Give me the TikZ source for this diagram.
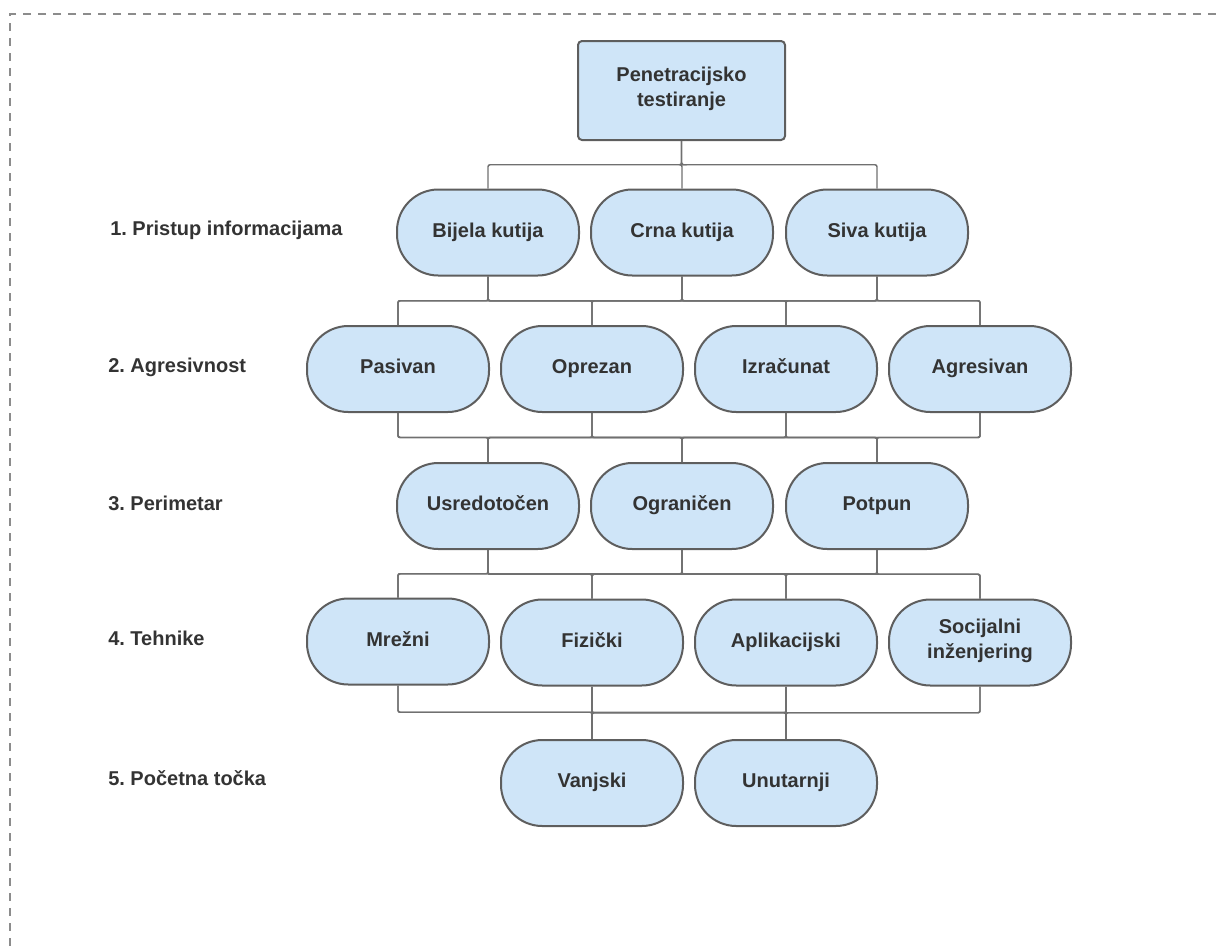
\documentclass[tikz,border=0pt]{standalone}
\usepackage{fontspec}
\setmainfont{Liberation Sans}
\usetikzlibrary{calc}
\frenchspacing

\definecolor{boxfill}{RGB}{207,229,248}
\definecolor{boxline}{RGB}{94,94,94}
\definecolor{wirecol}{RGB}{112,112,112}
\definecolor{framecol}{RGB}{140,140,140}
\definecolor{textcol}{RGB}{51,51,51}

\tikzset{
  pill/.style={draw=boxline, fill=boxfill, line width=1.5pt, rounded corners=31pt,
    minimum width=136.5pt, minimum height=64.5pt, inner sep=0pt, align=center,
    text=textcol, font=\fontsize{15}{18.5}\selectfont\bfseries,
    execute at begin node={\strut}, execute at end node={\strut}},
  rootbox/.style={pill, rounded corners=3pt, minimum width=155.25pt, minimum height=74.25pt},
  levellabel/.style={anchor=base west, inner sep=0pt, text=textcol,
    font=\fontsize{15}{18}\selectfont\bfseries},
  wire/.style={draw=wirecol, line width=1.1pt, rounded corners=1.5pt},
  elbow/.style={to path={|- ($(\tikztostart)!.5!(\tikztotarget)$) -| (\tikztotarget)}}
}

\begin{document}
\begin{tikzpicture}[x=0.75pt,y=0.75pt,yscale=-1,xscale=1]
\useasboundingbox (0,0) rectangle (1216,947);

%Dashed frame
\draw [dash pattern={on 6pt off 5.25pt}, color=framecol, line width=0.9pt] (1216,14) -- (10,14) -- (10,947) ;

%Shape: Root
\node [rootbox] (root) at (681.5,90.5) {Penetracijsko\\testiranje};

%Shape: Level 1
\node [pill] (bijela) at (488,232.5) {Bijela kutija};
\node [pill] (crna) at (682,232.5) {Crna kutija};
\node [pill] (siva) at (877,232.5) {Siva kutija};

%Shape: Level 2
\node [pill] (pasivan) at (398,369) {Pasivan};
\node [pill] (oprezan) at (592,369) {Oprezan};
\node [pill] (izracunat) at (786,369) {Izračunat};
\node [pill] (agresivan) at (980,369) {Agresivan};

%Shape: Level 3
\node [pill] (usredotocen) at (488,506) {Usredotočen};
\node [pill] (ogranicen) at (682,506) {Ograničen};
\node [pill] (potpun) at (877,506) {Potpun};

%Shape: Level 4
\node [pill] (mrezni) at (398,641.5) {Mrežni};
\node [pill] (fizicki) at (592,642.5) {Fizički};
\node [pill] (aplikacijski) at (786,642.5) {Aplikacijski};
\node [pill] (socijalni) at (980,642.5) {Socijalni\\inženjering};

%Shape: Level 5
\node [pill] (vanjski) at (592,783) {Vanjski};
\node [pill] (unutarnji) at (786,783) {Unutarnji};

% Text Node
\node [levellabel] (lab1) at (110,235) {1. Pristup informacijama};
\node [levellabel] (lab2) at (108,372) {2. Agresivnost};
\node [levellabel] (lab3) at (108,510) {3. Perimetar};
\node [levellabel] (lab4) at (108,645) {4. Tehnike};
\node [levellabel] (lab5) at (108,785) {5. Početna točka};

%Connectors
\foreach \c in {bijela,crna,siva}
  \draw [wire] (root.south) to[elbow] (\c.north);
\foreach \p in {bijela,crna,siva}
  \foreach \c in {pasivan,oprezan,izracunat,agresivan}
    \draw [wire] (\p.south) to[elbow] (\c.north);
\foreach \p in {pasivan,oprezan,izracunat,agresivan}
  \foreach \c in {usredotocen,ogranicen,potpun}
    \draw [wire] (\p.south) to[elbow] (\c.north);
\foreach \p in {usredotocen,ogranicen,potpun}
  \foreach \c in {mrezni,fizicki,aplikacijski,socijalni}
    \draw [wire] (\p.south) to[elbow] (\c.north);
\foreach \p in {mrezni,fizicki,aplikacijski,socijalni}
  \foreach \c in {vanjski,unutarnji}
    \draw [wire] (\p.south) to[elbow] (\c.north);

\end{tikzpicture}
\end{document}
